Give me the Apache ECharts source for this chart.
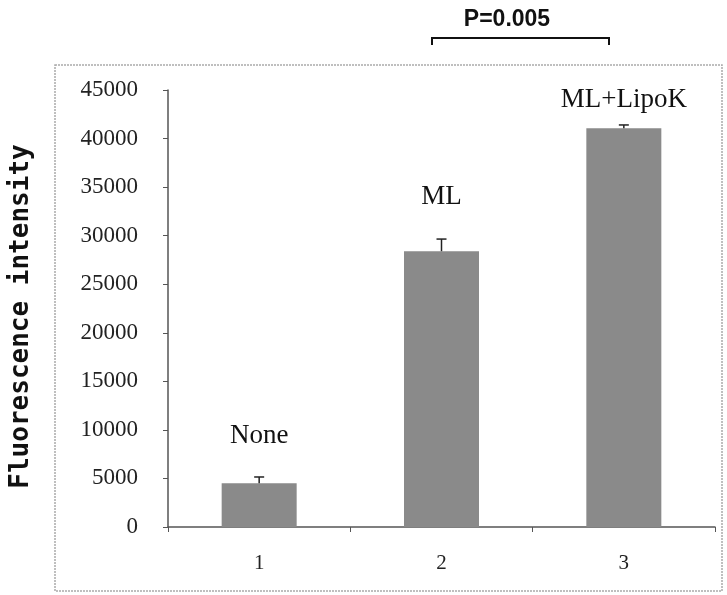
<!DOCTYPE html>
<html lang="en">

<head>
    <meta charset="UTF-8">
    <title>Fluorescence intensity</title>
    <script src="https://cdn.jsdelivr.net/npm/echarts@6/dist/echarts.min.js"></script>
    <style>
        html, body {
            margin: 0;
            padding: 0;
            background: #fff;
        }

        #chart {
            width: 727px;
            height: 595px;
        }
    </style>
</head>

<body>
    <div id="chart"></div>

    <script>
        // data
        var categories = ['1', '2', '3'];
        var groupNames = ['None', 'ML', 'ML+LipoK'];
        var means = [4500, 28400, 41050];
        var errTop = [5150, 29650, 41400];
        var labelGap = [34, 41, 15];
        var pText = 'P=0.005';

        var chart = echarts.init(document.getElementById('chart'));

        var serif = '"Liberation Serif", "DejaVu Serif", serif';

        var option = {
            animation: false,
            grid: {
                left: 160,
                right: 12,
                top: 90,
                bottom: 68
            },
            xAxis: {
                type: 'category',
                data: categories,
                axisLine: { lineStyle: { color: '#555', width: 1.5 } },
                axisTick: { show: true, length: 5, lineStyle: { color: '#555' } },
                axisLabel: { margin: 26, fontSize: 21, fontFamily: serif, color: '#222' }
            },
            yAxis: {
                type: 'value',
                min: 0,
                max: 45000,
                interval: 5000,
                name: 'Fluorescence intensity',
                nameLocation: 'middle',
                nameGap: 134,
                nameTextStyle: {
                    fontFamily: '"DejaVu Sans Mono", monospace',
                    fontWeight: 'bold',
                    fontSize: 26,
                    color: '#111',
                    padding: [0, 16, 0, 0]
                },
                axisLine: { show: true, lineStyle: { color: '#555', width: 1.5 } },
                axisTick: { show: true, length: 5, lineStyle: { color: '#555' } },
                splitLine: { show: false },
                axisLabel: {
                    margin: 30,
                    fontSize: 23,
                    fontFamily: serif,
                    color: '#222',
                    formatter: function (v) { return String(v); }
                }
            },
            graphic: [
                {
                    type: 'rect',
                    shape: { x: 55, y: 65, width: 667, height: 526 },
                    style: { fill: 'none', stroke: '#aaa', lineWidth: 1.5, lineDash: [2, 1] },
                    z: -1
                },
                {
                    type: 'text',
                    x: 507,
                    y: 20,
                    style: {
                        text: pText,
                        font: 'bold 23px "Liberation Sans", Arial, sans-serif',
                        fill: '#111',
                        textAlign: 'center',
                        textVerticalAlign: 'middle'
                    }
                },
                {
                    type: 'polyline',
                    shape: { points: [[432, 45], [432, 38], [609, 38], [609, 45]] },
                    style: { stroke: '#111', lineWidth: 2, fill: 'none' }
                }
            ],
            series: [
                {
                    type: 'bar',
                    barWidth: 75,
                    itemStyle: { color: '#8a8a8a' },
                    data: means.map(function (v, i) {
                        return {
                            value: v,
                            label: {
                                show: true,
                                position: 'top',
                                distance: labelGap[i],
                                formatter: groupNames[i],
                                fontFamily: serif,
                                fontSize: 27,
                                color: '#111'
                            }
                        };
                    })
                },
                {
                    type: 'custom',
                    data: errTop.map(function (v, i) { return [i, means[i], v]; }),
                    renderItem: function (params, api) {
                        var base = api.coord([api.value(0), api.value(1)]);
                        var top = api.coord([api.value(0), api.value(2)]);
                        var half = 5;
                        return {
                            type: 'group',
                            children: [
                                {
                                    type: 'line',
                                    shape: { x1: base[0], y1: base[1], x2: top[0], y2: top[1] },
                                    style: { stroke: '#222', lineWidth: 1.5 }
                                },
                                {
                                    type: 'line',
                                    shape: { x1: top[0] - half, y1: top[1], x2: top[0] + half, y2: top[1] },
                                    style: { stroke: '#222', lineWidth: 1.5 }
                                }
                            ]
                        };
                    },
                    z: 3
                }
            ]
        };

        chart.setOption(option);
    </script>
</body>

</html>
